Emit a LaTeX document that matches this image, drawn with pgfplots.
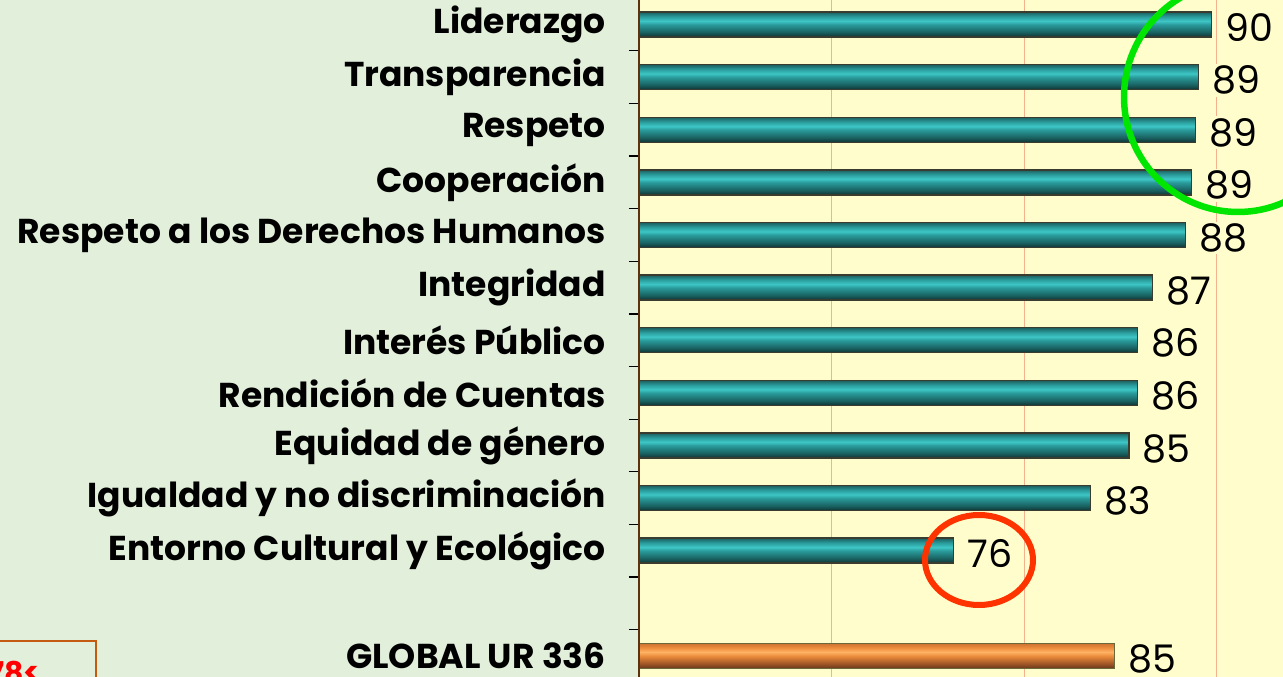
\documentclass[border=0pt]{standalone}
\usepackage{pgfplots}
\pgfplotsset{compat=1.18}
\usepackage{fontspec}
\setmainfont{Poppins}
\definecolor{bggreen}{RGB}{226,239,218}
\definecolor{plotbg}{RGB}{255,253,204}
\definecolor{gridc}{RGB}{244,177,140}
\definecolor{axisbrown}{RGB}{95,50,15}
\definecolor{tA}{RGB}{16,50,50}
\definecolor{tB}{RGB}{25,95,95}
\definecolor{tC}{RGB}{42,155,155}
\definecolor{tD}{RGB}{62,198,198}
\definecolor{tE}{RGB}{28,95,95}
\definecolor{oA}{RGB}{105,55,25}
\definecolor{oB}{RGB}{165,90,40}
\definecolor{oC}{RGB}{235,140,60}
\definecolor{oD}{RGB}{255,178,100}
\definecolor{oE}{RGB}{205,115,50}
\definecolor{baroutline}{RGB}{58,60,48}
\definecolor{orangeoutline}{RGB}{105,105,60}
\definecolor{boxc}{RGB}{197,90,17}
\definecolor{circgreen}{RGB}{0,230,0}
\definecolor{circred}{RGB}{255,51,0}
\pgfdeclareverticalshading{tealbar}{100bp}{color(0bp)=(tA); color(25bp)=(tA); color(34bp)=(tB); color(50bp)=(tC); color(57bp)=(tD); color(66bp)=(tC); color(75bp)=(tE); color(100bp)=(tE)}
\pgfdeclareverticalshading{orangebar}{100bp}{color(0bp)=(oA); color(25bp)=(oA); color(36bp)=(oB); color(50bp)=(oC); color(58bp)=(oD); color(67bp)=(oC); color(75bp)=(oE); color(100bp)=(oE)}
\pgfplotsset{
  tealstyle/.style={bar shift=0pt, draw=baroutline, line width=1.5pt, shade, shading=tealbar},
  orangestyle/.style={bar shift=0pt, draw=orangeoutline, line width=1.5pt, shade, shading=orangebar},
}
\begin{document}
\begin{tikzpicture}[x=1pt,y=1pt]
\useasboundingbox (0,0) rectangle (1283,677);
\clip (0,0) rectangle (1283,677);
\fill[bggreen] (0,0) rectangle (1283,677);
\begin{axis}[
  at={(639pt,-5.3pt)}, anchor=south west,
  scale only axis, width=770pt, height=684.1pt,
  xmin=60, xmax=100, ymin=-0.5, ymax=12.5,
  clip mode=individual,
  axis background/.style={fill=plotbg},
  axis line style={draw=none},
  xtick={70,80,90,100}, xticklabels={},
  xmajorgrids, grid style={draw=gridc, line width=1pt},
  ytick={0,...,12},
  yticklabels={GLOBAL UR 336,{},Entorno Cultural y Ecológico,Igualdad y no discriminación,Equidad de género,Rendición de Cuentas,Interés Público,Integridad,Respeto a los Derechos Humanos,Cooperación,Respeto,Transparencia,Liderazgo},
  minor ytick={-0.5,0.5,...,12.5},
  ytick pos=left,
  major tick length=0pt, minor tick length=10pt, tick align=outside,
  minor tick style={draw=black, line width=1.2pt},
  yticklabel style={font=\bfseries\fontsize{34.5}{34.5}\selectfont, inner sep=0pt, xshift=-33pt, anchor=east},
  xbar, bar width=25pt,
  point meta=x,
  /pgf/number format/assume math mode=true,
  nodes near coords={\pgfmathprintnumber[fixed,precision=0,assume math mode=true]{\pgfplotspointmeta}},
  nodes near coords align={horizontal},
  every node near coord/.append style={anchor=west, font=\fontsize{38}{38}\selectfont, fill=plotbg, inner sep=2pt, xshift=11pt, yshift=-3pt, text=black},
]
\addplot[tealstyle] coordinates {(76.34,2)};
\addplot[tealstyle] coordinates {(83.45,3)};
\addplot[tealstyle] coordinates {(85.45,4)};
\addplot[tealstyle] coordinates {(85.90,5)};
\addplot[tealstyle] coordinates {(85.90,6)};
\addplot[tealstyle] coordinates {(86.68,7)};
\addplot[tealstyle] coordinates {(88.39,8)};
\addplot[tealstyle] coordinates {(88.70,9)};
\addplot[tealstyle] coordinates {(88.91,10)};
\addplot[tealstyle] coordinates {(89.06,11)};
\addplot[tealstyle] coordinates {(89.74,12)};
\addplot[orangestyle] coordinates {(84.70,0)};
\draw[axisbrown, line width=2.5pt] (axis cs:60,-0.5) -- (axis cs:60,12.5);
\end{axis}
% annotations
\draw[circgreen, line width=6.5pt] (1238,580) ellipse [x radius=114, y radius=115];
\draw[circred, line width=6pt] (979,117) ellipse [x radius=54, y radius=45];
\draw[boxc, line width=2pt, fill=bggreen] (-20,-20) rectangle (96,36);
\node[text=red, anchor=base west, inner sep=0pt, font=\bfseries\fontsize{30}{30}\selectfont] at (-12,-7) {78<};
\end{tikzpicture}
\end{document}
